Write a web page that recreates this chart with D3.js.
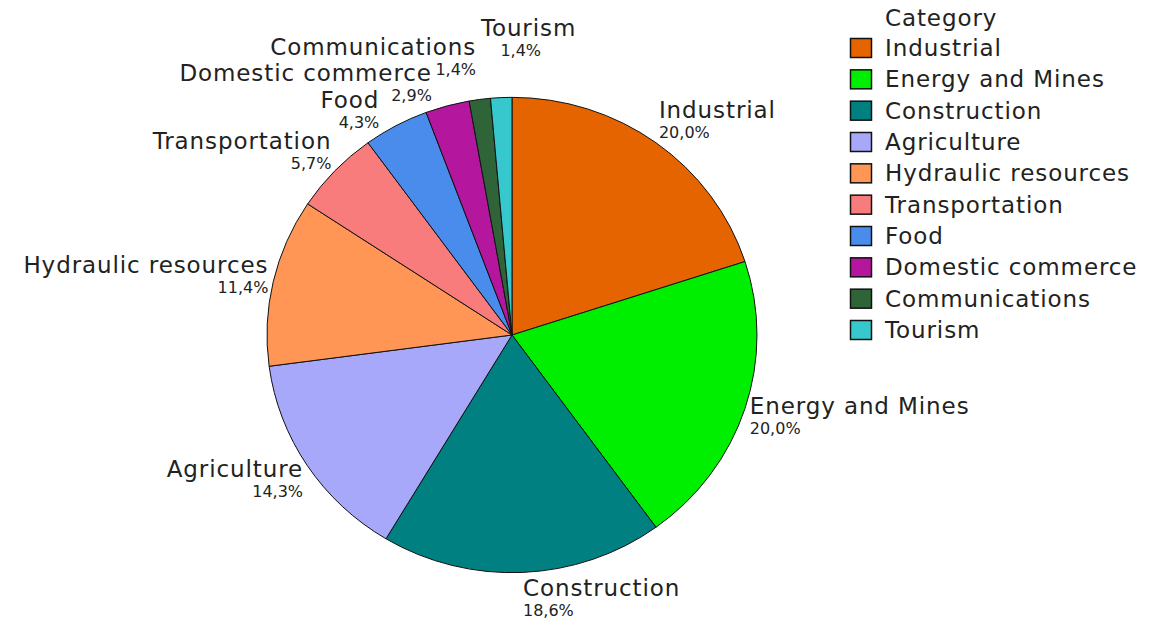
<!DOCTYPE html>
<html>
<head>
<meta charset="utf-8">
<script src="https://cdn.jsdelivr.net/npm/d3@7"></script>
<style>
  body { margin: 0; background: #fff; }
  text { font-family: "DejaVu Sans", Verdana, sans-serif; }
  .name, .legend-text { letter-spacing: 0.9px; }
</style>
</head>
<body>
<svg id="chart" width="1149" height="619"></svg>
<script>
// Share of projects per category (%)
var categories = ["Industrial", "Energy and Mines", "Construction", "Agriculture", "Hydraulic resources",
    "Transportation", "Food", "Domestic commerce", "Communications", "Tourism"];
var shares = [20.0, 20.0, 18.6, 14.3, 11.4, 5.7, 4.3, 2.9, 1.4, 1.4];
var shareLabels = ["20,0%", "20,0%", "18,6%", "14,3%", "11,4%", "5,7%", "4,3%", "2,9%", "1,4%", "1,4%"];
var colors = ["#e66400", "#00ef00", "#008080", "#a8a8fa", "#ff9656", "#f87c7c", "#4a8cec", "#b4179e", "#2e6438", "#36c8cc"];

var svg = d3.select("#chart");
var cx = 512, cy = 335, radius = 245, squash = 0.97;

var pie = d3.pie().sort(null).value(d => d);
var arcs = pie(shares);
var arc = d3.arc().innerRadius(0).outerRadius(radius);

var color = d3.scaleOrdinal().domain(categories).range(colors);

// Pie slices (slightly squashed vertically like the original)
var pieG = svg.append("g")
    .attr("transform", `translate(${cx},${cy}) scale(1,${squash})`);

pieG.selectAll("path")
    .data(arcs)
    .enter().append("path")
    .attr("d", arc)
    .attr("fill", (d, i) => color(categories[i]))
    .attr("stroke", "#111")
    .attr("stroke-width", 1)
    .attr("vector-effect", "non-scaling-stroke");

// Labels: name + percentage, placed around the pie and spread apart when they collide
var labelR = 250, nameSize = 23, pctSize = 16, boxH = 44;

var labels = svg.append("g").selectAll("g")
    .data(arcs)
    .enter().append("g");

labels.append("text")
    .attr("class", "name")
    .style("font-size", nameSize + "px")
    .attr("fill", "#222")
    .text((d, i) => categories[i]);

labels.append("text")
    .attr("class", "pct")
    .style("font-size", pctSize + "px")
    .attr("fill", "#222")
    .text((d, i) => shareLabels[i]);

var info = [];
labels.each(function (d) {
    var g = d3.select(this);
    info.push({
        a: (d.startAngle + d.endAngle) / 2,
        dr: 0,
        wn: g.select(".name").node().getComputedTextLength(),
        wp: g.select(".pct").node().getComputedTextLength()
    });
});

function layout(l) {
    var s = Math.sin(l.a), c = Math.cos(l.a);
    var px = cx + labelR * s, py = cy - labelR * squash * c - l.dr;
    var gx = Math.max(0, Math.min(1, 0.5 - s * 12));
    var top = py - boxH * (1 + c) / 2;
    l.nx = px - l.wn * gx;
    l.px = px - l.wp * gx;
    l.top = top;
    l.rects = [
        [l.nx, top, l.nx + l.wn, top + 24],
        [l.px, top + 24, l.px + l.wp, top + boxH]
    ];
}

function overlap(r1, r2) {
    var pad = 2;
    return r1[0] < r2[2] + pad && r2[0] < r1[2] + pad && r1[1] < r2[3] + pad && r2[1] < r1[3] + pad;
}

// Push colliding labels apart: earlier one slides back along the rim,
// later one slides forward (or, near the top, climbs upward)
var step = 0.2 * Math.PI / 180;
for (let it = 0; it < 3000; it++) {
    info.forEach(layout);
    let moved = false;
    for (let i = 0; i < info.length; i++) {
        for (let j = i + 1; j < info.length; j++) {
            let hit = info[i].rects.some(r1 => info[j].rects.some(r2 => overlap(r1, r2)));
            if (!hit) continue;
            let diff = info[j].a - info[i].a;
            while (diff > Math.PI) diff -= 2 * Math.PI;
            while (diff < -Math.PI) diff += 2 * Math.PI;
            let first = diff >= 0 ? info[i] : info[j], second = diff >= 0 ? info[j] : info[i];
            first.a -= step;
            if (Math.abs(Math.sin(second.a)) < 0.15 && Math.cos(second.a) > 0) {
                second.a += step / 2;
                second.dr += 1;
            } else {
                second.a += step;
            }
            moved = true;
        }
    }
    if (!moved) break;
}
info.forEach(layout);

labels.select(".name")
    .attr("x", (d, i) => info[i].nx)
    .attr("y", (d, i) => info[i].top + 19);
labels.select(".pct")
    .attr("x", (d, i) => info[i].px)
    .attr("y", (d, i) => info[i].top + 39);

// Legend
var legend = svg.append("g").attr("transform", "translate(850,0)");

legend.append("text")
    .attr("class", "legend-text")
    .attr("x", 35)
    .attr("y", 26)
    .style("font-size", nameSize + "px")
    .attr("fill", "#222")
    .text("Category");

var row = d3.scaleLinear().domain([0, 9]).range([38, 320]);

var items = legend.selectAll(".item")
    .data(categories)
    .enter().append("g")
    .attr("class", "item")
    .attr("transform", (d, i) => `translate(0,${row(i)})`);

items.append("rect")
    .attr("x", 0.5)
    .attr("y", 0.5)
    .attr("width", 21)
    .attr("height", 19)
    .attr("fill", d => color(d))
    .attr("stroke", "#111")
    .attr("stroke-width", 1.5);

items.append("text")
    .attr("class", "legend-text")
    .attr("x", 35)
    .attr("y", 18)
    .style("font-size", nameSize + "px")
    .attr("fill", "#222")
    .text(d => d);
</script>
</body>
</html>
